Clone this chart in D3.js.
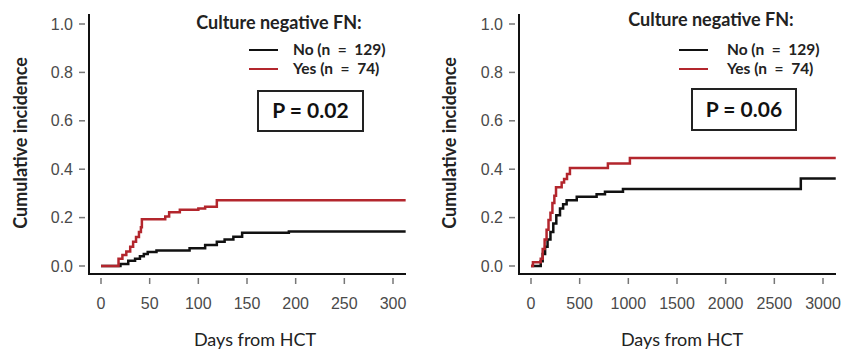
<!DOCTYPE html>
<html>
<head>
<meta charset="utf-8">
<script src="https://cdn.jsdelivr.net/npm/d3@7"></script>
<style>
  body { margin: 0; background: #fff; }
  svg { display: block; }
</style>
</head>
<body>
<svg id="chart" width="841" height="349"></svg>
<script>
// Cumulative incidence curves, [day, incidence]
let leftNo = [[0, 0], [20, 0.008], [28, 0.022], [35, 0.03], [40, 0.04], [44, 0.05], [48, 0.058], [57, 0.064],
    [91, 0.073], [107, 0.087], [119, 0.1], [127, 0.11], [136, 0.121], [145, 0.137], [193, 0.143], [313, 0.143]];
let leftYes = [[0, 0], [18, 0.03], [22, 0.045], [26, 0.06], [30, 0.08], [33, 0.1], [36, 0.12], [39, 0.14],
    [41, 0.16], [42, 0.193], [66, 0.205], [70, 0.222], [81, 0.232], [100, 0.238], [107, 0.245], [119, 0.272], [313, 0.272]];
let rightNo = [[0, 0], [100, 0.02], [120, 0.05], [145, 0.08], [170, 0.11], [200, 0.14], [229, 0.176],
    [260, 0.21], [298, 0.238], [330, 0.255], [366, 0.272], [470, 0.286], [674, 0.296], [760, 0.307],
    [945, 0.318], [2772, 0.362], [3131, 0.362]];
let rightYes = [[0, 0], [20, 0.015], [100, 0.03], [120, 0.07], [140, 0.11], [160, 0.15], [180, 0.19],
    [200, 0.22], [220, 0.26], [240, 0.29], [257, 0.325], [315, 0.345], [340, 0.36], [370, 0.38],
    [400, 0.405], [790, 0.424], [1016, 0.446], [3131, 0.446]];

let yTicks = [0, 0.2, 0.4, 0.6, 0.8, 1.0];
let leftXTicks = [0, 50, 100, 150, 200, 250, 300];
let rightXTicks = [0, 500, 1000, 1500, 2000, 2500, 3000];
let legendLabels = ["No (n  =  129)", "Yes (n  =  74)"];
let pValues = ["P = 0.02", "P = 0.06"];

let seriesColors = ["#111111", "#b3262d"];

let svg = d3.select("#chart");

// Panel layout: where the axes sit in each half
let panels = [
    {
        data: [leftNo, leftYes], xTicks: leftXTicks, p: pValues[0],
        x0: 101, x1: 393, axisX: 89, axisEnd: 406,
        ylabX: 21, xlabX: 255, titleX: 279, titleY: 29,
        legLineX: 249, legTextX: 293, legY: 50,
        box: [258, 91, 105, 40]
    },
    {
        data: [rightNo, rightYes], xTicks: rightXTicks, p: pValues[1],
        x0: 531, x1: 823, axisX: 519, axisEnd: 836,
        ylabX: 450, xlabX: 682, titleX: 711, titleY: 26,
        legLineX: 679, legTextX: 727, legY: 50,
        box: [692, 89, 104, 41]
    }
];

panels.forEach((p) => {
    let xMaxTick = p.xTicks[p.xTicks.length - 1];
    let x = d3.scaleLinear().domain([0, xMaxTick]).range([p.x0, p.x1]);
    let y = d3.scaleLinear().domain([0, 1]).range([266, 24]);

    let g = svg.append("g");

    // L-shaped frame
    g.append("path")
        .attr("d", `M${p.axisX},14 V274 H${p.axisEnd}`)
        .attr("fill", "none")
        .attr("stroke", "#111")
        .attr("stroke-width", 2);

    // y ticks
    g.selectAll(".ytick")
        .data(yTicks)
        .enter()
        .append("line")
        .attr("x1", p.axisX - 10)
        .attr("x2", p.axisX - 4)
        .attr("y1", (d) => y(d))
        .attr("y2", (d) => y(d))
        .attr("stroke", "#777")
        .attr("stroke-width", 1.5);

    g.selectAll(".ylab")
        .data(yTicks)
        .enter()
        .append("text")
        .attr("x", p.axisX - 16)
        .attr("y", (d) => y(d))
        .attr("dy", "0.35em")
        .attr("text-anchor", "end")
        .attr("font-family", "Liberation Sans, Arial, sans-serif")
        .attr("font-size", 16)
        .attr("fill", "#4a4a4a")
        .text((d) => d3.format(".1f")(d));

    // x ticks
    g.selectAll(".xtick")
        .data(p.xTicks)
        .enter()
        .append("line")
        .attr("x1", (d) => x(d))
        .attr("x2", (d) => x(d))
        .attr("y1", 278)
        .attr("y2", 284)
        .attr("stroke", "#777")
        .attr("stroke-width", 1.5);

    g.selectAll(".xlab")
        .data(p.xTicks)
        .enter()
        .append("text")
        .attr("x", (d) => x(d))
        .attr("y", 303)
        .attr("dy", "0.35em")
        .attr("text-anchor", "middle")
        .attr("font-family", "Liberation Sans, Arial, sans-serif")
        .attr("font-size", 16)
        .attr("fill", "#4a4a4a")
        .text((d) => d);

    // Axis titles
    g.append("text")
        .attr("transform", `translate(${p.ylabX},143) rotate(-90)`)
        .attr("dy", "0.35em")
        .attr("text-anchor", "middle")
        .attr("font-family", "Lato, sans-serif")
        .attr("font-weight", "bold")
        .attr("font-size", 18)
        .attr("fill", "#222")
        .text("Cumulative incidence");

    g.append("text")
        .attr("x", p.xlabX)
        .attr("y", 340)
        .attr("dy", "0.35em")
        .attr("text-anchor", "middle")
        .attr("font-family", "Lato, sans-serif")
        .attr("font-size", 18)
        .attr("fill", "#222")
        .text("Days from HCT");

    // Curves
    let line = d3.line()
        .x((d) => x(d[0]))
        .y((d) => y(d[1]))
        .curve(d3.curveStepAfter);

    p.data.forEach((series, i) => {
        g.append("path")
            .datum(series)
            .attr("d", line)
            .attr("fill", "none")
            .attr("stroke", seriesColors[i])
            .attr("stroke-width", 2.5);
    });

    // Legend
    g.append("text")
        .attr("x", p.titleX)
        .attr("y", p.titleY)
        .attr("text-anchor", "middle")
        .attr("font-family", "Lato, sans-serif")
        .attr("font-weight", "bold")
        .attr("font-size", 18)
        .attr("fill", "#222")
        .text("Culture negative FN:");

    legendLabels.forEach((label, i) => {
        let ly = p.legY + i * 19;
        g.append("line")
            .attr("x1", p.legLineX)
            .attr("x2", p.legLineX + 29)
            .attr("y1", ly)
            .attr("y2", ly)
            .attr("stroke", seriesColors[i])
            .attr("stroke-width", 2);
        g.append("text")
            .attr("x", p.legTextX)
            .attr("y", ly)
            .attr("dy", "0.35em")
            .style("white-space", "pre")
            .attr("font-family", "Lato, sans-serif")
            .attr("font-weight", "bold")
            .attr("font-size", 15.5)
            .attr("fill", "#222")
            .text(label);
    });

    // P value box
    let [bx, by, bw, bh] = p.box;
    g.append("rect")
        .attr("x", bx)
        .attr("y", by)
        .attr("width", bw)
        .attr("height", bh)
        .attr("fill", "#fff")
        .attr("stroke", "#222")
        .attr("stroke-width", 2);

    g.append("text")
        .attr("x", bx + bw / 2)
        .attr("y", by + bh / 2)
        .attr("dy", "0.35em")
        .attr("text-anchor", "middle")
        .attr("font-family", "Lato, sans-serif")
        .attr("font-weight", "bold")
        .attr("font-size", 21)
        .attr("fill", "#111")
        .text(p.p);
});
</script>
</body>
</html>
